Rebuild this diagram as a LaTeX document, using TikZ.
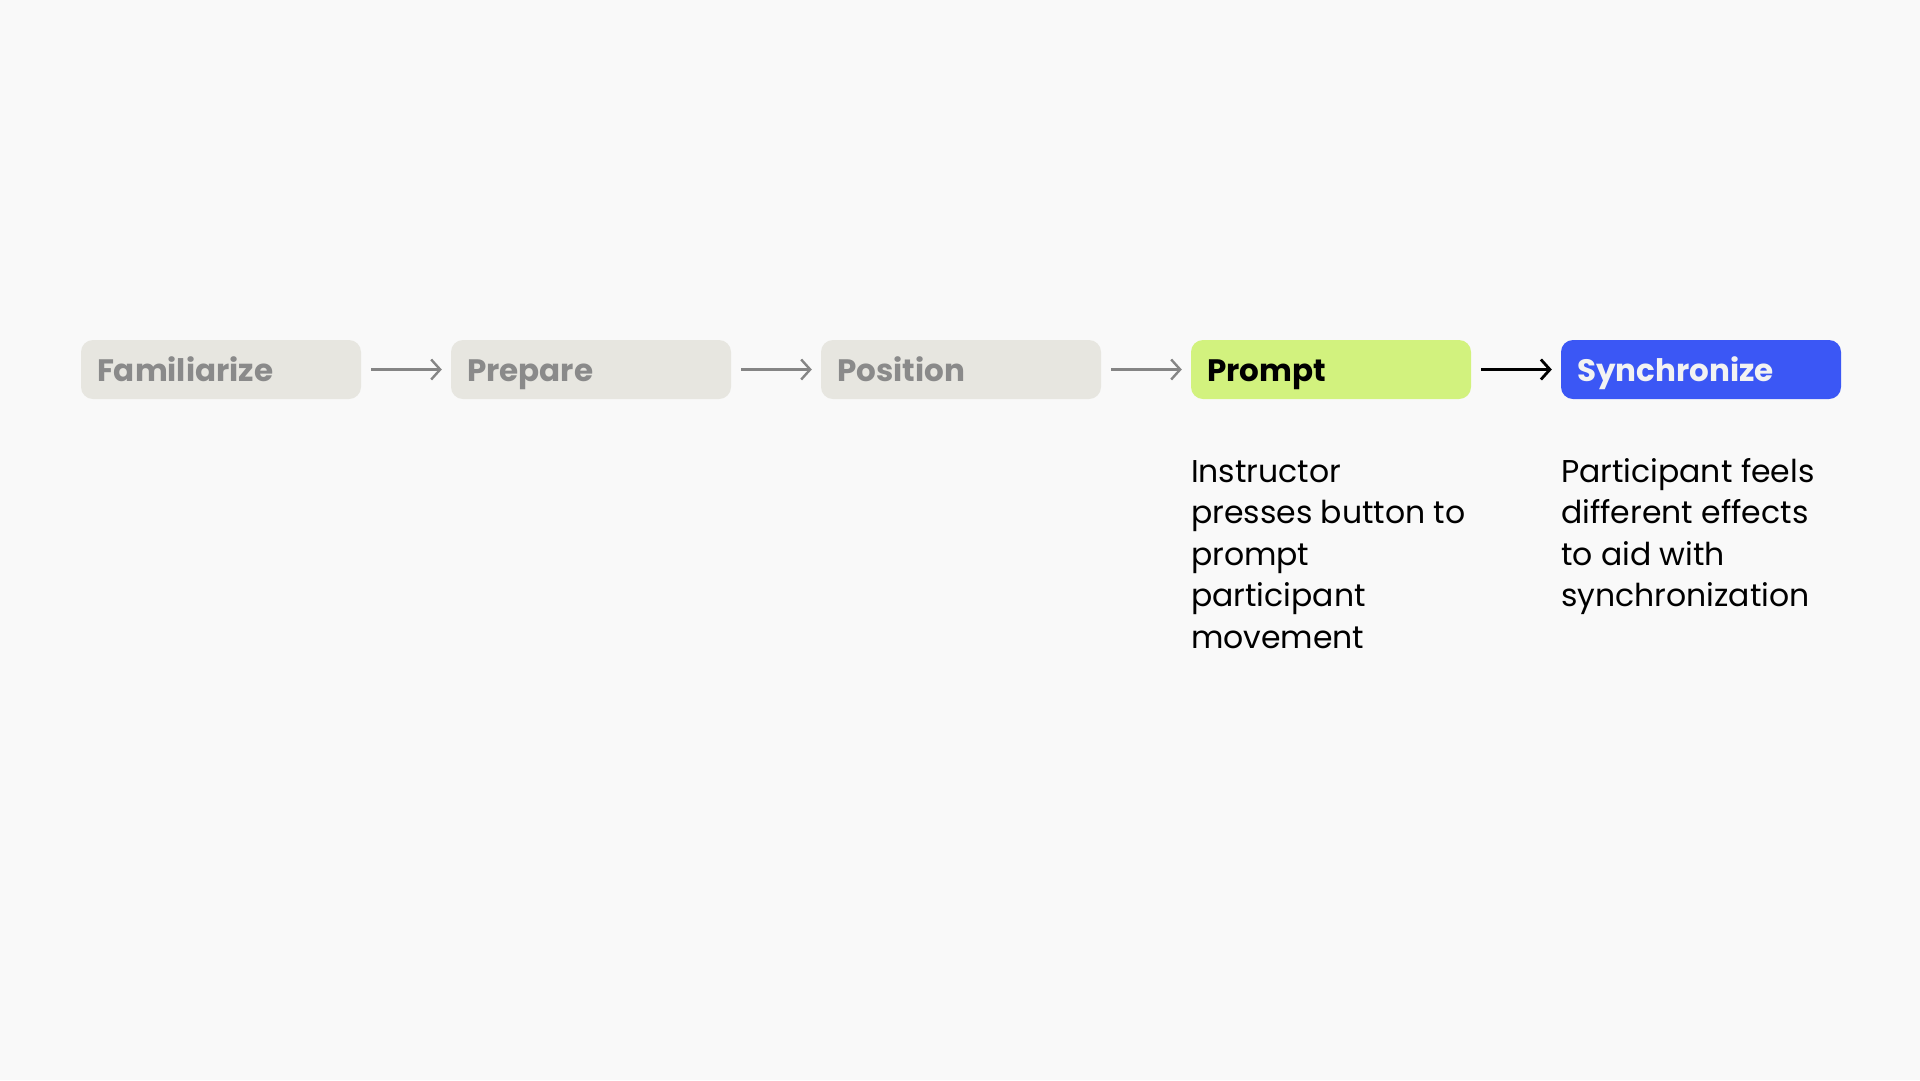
\documentclass[tikz,border=0pt]{standalone}
\usepackage{fontspec}
\setmainfont{Poppins}
\usepackage{xcolor}
\usetikzlibrary{arrows.meta}

\definecolor{pagebg}{HTML}{F9F9F9}
\definecolor{stepgray}{HTML}{E7E6E0}
\definecolor{steptext}{HTML}{8A8A8A}
\definecolor{arrowgray}{HTML}{858585}
\definecolor{promptgreen}{HTML}{D2F27E}
\definecolor{syncblue}{HTML}{3B57F5}
\definecolor{synctext}{HTML}{F2F2F2}

\tikzset{
    stage/.style={rectangle, rounded corners=12pt, minimum width=280pt,
        minimum height=59pt, inner xsep=16pt, text width=248pt, align=left,
        text height=30pt, text depth=7pt,
        font=\fontsize{31}{36}\selectfont\bfseries},
    done/.style={stage, fill=stepgray, text=steptext},
    flow/.style={-{Straight Barb[length=9pt,width=20pt]}, line width=2.4pt,
        arrowgray, shorten <=10pt, shorten >=9pt},
    note/.style={anchor=base west, inner sep=0pt, align=left,
        font=\fontsize{31.5}{41.6}\selectfont}
}

\begin{document}
\begin{tikzpicture}[x=1pt,y=1pt]
    \path [fill=pagebg] (0, 0) rectangle (1920, -1080);
    \useasboundingbox (0, 0) rectangle (1920, -1080);

    \path (221, -369.5) node [done] (fam) {Familiarize};
    \path (591, -369.5) node [done] (prep) {Prepare};
    \path (961, -369.5) node [done] (pos) {Position};
    \path (1331, -369.5) node [stage, fill=promptgreen] (prompt) {Prompt};
    \path (1701, -369.5) node [stage, fill=syncblue, text=synctext] (sync)
	{Synchronize};

    \draw [flow] (fam) -- (prep);
    \draw [flow] (prep) -- (pos);
    \draw [flow] (pos) -- (prompt);
    \draw [flow, black, line width=2.8pt] (prompt) -- (sync);

    % base is the last line: 482 + 4 or 3 line steps
    \path (prompt.west |- 0, -648.4) node [note] (promptnote)
	{Instructor\\presses button to\\prompt\\participant\\movement};
    \path (sync.west |- 0, -606.8) node [note] (syncnote)
	{Participant feels\\different effects\\to aid with\\synchronization};
\end{tikzpicture}
\end{document}
